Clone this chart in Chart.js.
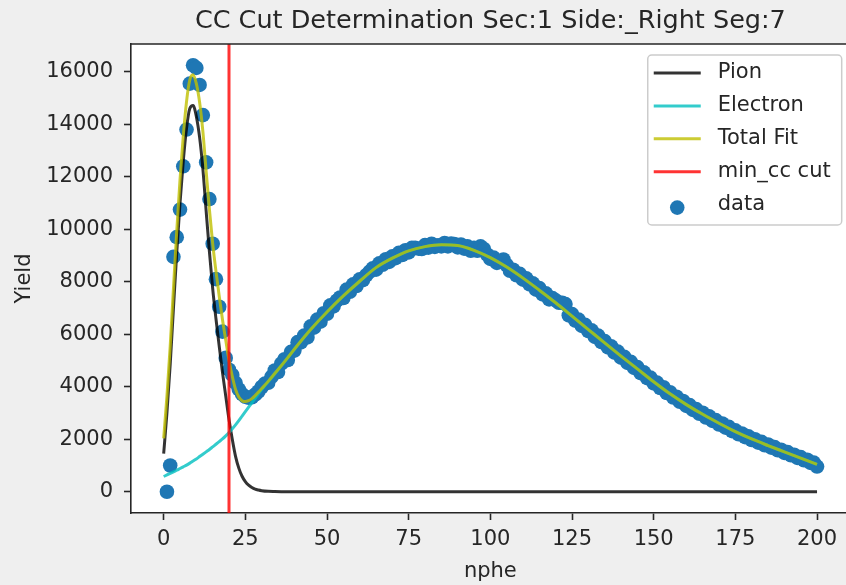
<!DOCTYPE html>
<html>
<head>
<meta charset="utf-8">
<title>CC Cut Determination</title>
<script src="https://cdn.jsdelivr.net/npm/chart.js@4/dist/chart.umd.min.js"></script>
<style>
  html, body { margin: 0; padding: 0; background: #efefef; overflow: hidden; }
  #wrap { width: 857px; height: 585px; }
  canvas { display: block; }
</style>
</head>
<body>
<div id="wrap"><canvas id="ccCut" width="857" height="585"></canvas></div>
<script>
Chart.defaults.font.family = '"DejaVu Sans", sans-serif';

// nphe bins and measured yield per bin
const nphe = Array.from({ length: 200 }, (_, i) => i + 1);
const yieldData = [
  0, 1000, 8950, 9700, 10750, 12400, 13800, 15550, 16250, 16150,
  15500, 14350, 12550, 11150, 9450, 8100, 7050, 6100, 5100, 4650,
  4450, 4150, 3900, 3720, 3620, 3580, 3600, 3700, 3820, 3990,
  4120, 4150, 4380, 4620, 4560, 4880, 5050, 5020, 5330, 5380,
  5700, 5690, 5950, 5880, 6300, 6250, 6560, 6480, 6800, 6780,
  7100, 7060, 7280, 7400, 7380, 7700, 7620, 7900, 7840, 8090,
  8060, 8250, 8380, 8510, 8460, 8700, 8650, 8860, 8760, 8970,
  8900, 9100, 9020, 9200, 9120, 9290, 9290, 9260, 9250, 9400,
  9300, 9450, 9330, 9390, 9350, 9480, 9350, 9460, 9440, 9310,
  9420, 9260, 9350, 9180, 9290, 9180, 9350, 9250, 9040, 8870,
  8920, 8720, 8780, 8850, 8640, 8420, 8460, 8250, 8300, 8080,
  8130, 7900, 7940, 7700, 7760, 7520, 7560, 7330, 7380, 7290,
  7200, 7200, 7150, 6720, 6770, 6520, 6560, 6320, 6360, 6120,
  6150, 5900, 5950, 5700, 5740, 5500, 5540, 5300, 5340, 5110,
  5140, 4910, 4950, 4720, 4750, 4520, 4550, 4330, 4350, 4130,
  4160, 3950, 3980, 3760, 3790, 3590, 3620, 3430, 3460, 3270,
  3300, 3120, 3150, 2970, 3010, 2830, 2870, 2700, 2730, 2560,
  2600, 2440, 2470, 2310, 2340, 2190, 2220, 2080, 2110, 1970,
  2000, 1870, 1900, 1770, 1800, 1680, 1700, 1580, 1600, 1480,
  1510, 1390, 1410, 1290, 1320, 1200, 1220, 1100, 1110, 960
];

// fitted components, sampled along nphe
const curveX = [
  0, 1, 2, 3, 4, 5, 6, 7, 8, 9, 10, 11, 12, 13, 14, 15, 16, 17, 18, 19,
  20, 21, 22, 23, 24, 25, 26, 27, 28, 29, 30, 32, 34, 36, 38, 40,
  45, 50, 55, 60, 65, 70, 75, 80, 85, 90, 95, 100, 105, 110, 115, 120,
  125, 130, 135, 140, 145, 150, 155, 160, 165, 170, 175, 180, 185, 190, 195, 200
];
const pionY = [
  1450, 3000, 4850, 7000, 9100, 11000, 12600, 13850, 14600, 14720,
  14300, 13500, 12300, 10700, 9150, 7750, 6600, 5550, 4550, 3650,
  2750, 2000, 1350, 900, 590, 385, 250, 160, 100, 65, 40, 15, 8, 4, 2, 0,
  0, 0, 0, 0, 0, 0, 0, 0, 0, 0, 0, 0, 0, 0, 0, 0,
  0, 0, 0, 0, 0, 0, 0, 0, 0, 0, 0, 0, 0, 0, 0, 0
];
const electronY = [
  580, 640, 700, 760, 820, 885, 950, 1015, 1090, 1170,
  1250, 1340, 1430, 1520, 1610, 1710, 1810, 1910, 2010, 2130,
  2260, 2400, 2550, 2710, 2880, 3050, 3220, 3390, 3560, 3730, 3890,
  4190, 4495, 4798, 5108, 5430,
  6180, 6850, 7460, 8020, 8540, 8900, 9180, 9340, 9410, 9380, 9200, 8920, 8560, 8140, 7680, 7200,
  6690, 6180, 5670, 5170, 4680, 4190, 3730, 3320, 2950, 2610, 2290, 2010, 1760, 1520, 1280, 1040
];
const totalY = [
  2030, 3640, 5550, 7760, 9920, 11885, 13550, 14865, 15690, 15890,
  15550, 14840, 13730, 12220, 10760, 9460, 8410, 7460, 6560, 5780,
  5010, 4400, 3900, 3610, 3470, 3435, 3470, 3550, 3660, 3795, 3930,
  4205, 4503, 4802, 5110, 5430,
  6180, 6850, 7460, 8020, 8540, 8900, 9180, 9340, 9410, 9380, 9200, 8920, 8560, 8140, 7680, 7200,
  6690, 6180, 5670, 5170, 4680, 4190, 3730, 3320, 2950, 2610, 2290, 2010, 1760, 1520, 1280, 1040
];

const minCcCut = 20;
const xRange = [-10, 210];
const yRange = [-810, 17060];
const xTicks = [0, 25, 50, 75, 100, 125, 150, 175, 200];
const yTicks = [0, 2000, 4000, 6000, 8000, 10000, 12000, 14000, 16000];

const inkColor = '#262626';

const toPoints = function toPoints(xs, ys) {
  return xs.map((x, i) => ({ x: x, y: ys[i] }));
}

const background = {
  id: 'background',
  beforeDraw: chart => {
    const ctx = chart.ctx;
    const area = chart.chartArea;
    ctx.save();
    ctx.fillStyle = '#efefef';
    ctx.fillRect(0, 0, chart.width, chart.height);
    ctx.fillStyle = '#ffffff';
    ctx.fillRect(area.left, area.top, area.right - area.left, area.bottom - area.top);
    ctx.restore();
  }
};

// top spine plus a boxed legend inside the upper right corner
const frameAndLegend = {
  id: 'frameAndLegend',
  afterDatasetsDraw: chart => {
    const ctx = chart.ctx;
    const area = chart.chartArea;
    const sets = chart.data.datasets;
    ctx.save();
    ctx.strokeStyle = inkColor;
    ctx.lineWidth = 1.6;
    ctx.beginPath();
    ctx.moveTo(area.left - 0.8, area.top);
    ctx.lineTo(area.right, area.top);
    ctx.stroke();

    ctx.font = '21px "DejaVu Sans"';
    var textW = Math.max(...sets.map(d => ctx.measureText(d.label).width));
    var w = 6 + 47 + 17 + textW + 11;
    var h = 170;
    var left = area.right - 8 - w;
    var top = area.top + 11;
    ctx.beginPath();
    ctx.roundRect(left, top, w, h, 4);
    ctx.fillStyle = 'rgba(255, 255, 255, 0.8)';
    ctx.fill();
    ctx.strokeStyle = '#cccccc';
    ctx.lineWidth = 1.5;
    ctx.stroke();

    sets.forEach((d, i) => {
      var y = top + 18 + i * 32.9;
      if (d.type === 'scatter') {
        ctx.beginPath();
        ctx.arc(left + 6 + 23.5, y + 3, 7.3, 0, Math.PI * 2);
        ctx.fillStyle = d.backgroundColor;
        ctx.fill();
      } else {
        ctx.beginPath();
        ctx.moveTo(left + 6, y);
        ctx.lineTo(left + 53, y);
        ctx.strokeStyle = d.borderColor;
        ctx.lineWidth = 3;
        ctx.stroke();
      }
      ctx.fillStyle = inkColor;
      ctx.textAlign = 'left';
      ctx.textBaseline = 'middle';
      ctx.fillText(d.label, left + 70, y);
    });
    ctx.restore();
  }
};

const lineSet = function lineSet(label, ys, color, order) {
  return {
    type: 'line',
    label: label,
    data: toPoints(curveX, ys),
    borderColor: color,
    backgroundColor: color,
    borderWidth: 3,
    pointRadius: 0,
    cubicInterpolationMode: 'monotone',
    fill: false,
    order: order
  };
}

const axisTicks = function axisTicks(values) {
  return scale => { scale.ticks = values.map(v => ({ value: v })); };
}

var chart = new Chart(document.getElementById('ccCut'), {
  type: 'line',
  plugins: [background, frameAndLegend],
  data: {
    datasets: [
      lineSet('Pion', pionY, 'rgba(0, 0, 0, 0.8)', 4),
      lineSet('Electron', electronY, 'rgba(0, 191, 191, 0.8)', 3),
      lineSet('Total Fit', totalY, 'rgba(191, 191, 0, 0.8)', 2),
      {
        type: 'line',
        label: 'min_cc cut',
        data: [{ x: minCcCut, y: yRange[0] }, { x: minCcCut, y: yRange[1] }],
        borderColor: 'rgba(255, 0, 0, 0.8)',
        backgroundColor: 'rgba(255, 0, 0, 0.8)',
        borderWidth: 3,
        pointRadius: 0,
        order: 1
      },
      {
        type: 'scatter',
        label: 'data',
        data: toPoints(nphe, yieldData),
        backgroundColor: '#1f77b4',
        borderWidth: 0,
        pointRadius: 7.3,
        order: 5
      }
    ]
  },
  options: {
    responsive: false,
    devicePixelRatio: 1,
    animation: false,
    events: [],
    layout: { padding: { left: 0, right: 2, top: 0, bottom: 0 } },
    plugins: {
      legend: { display: false },
      tooltip: { enabled: false },
      title: {
        display: true,
        fullSize: false,
        text: 'CC Cut Determination Sec:1 Side:_Right Seg:7',
        color: inkColor,
        font: { size: 25.5, weight: 'normal' },
        padding: { top: 6, bottom: 7.4 }
      }
    },
    scales: {
      x: {
        type: 'linear',
        min: xRange[0],
        max: xRange[1],
        afterBuildTicks: axisTicks(xTicks),
        afterFit: scale => {
          scale.height = 72;
          scale.paddingLeft = 0;
          scale.paddingRight = 0;
        },
        grid: { drawOnChartArea: false, tickLength: 7, tickWidth: 1.6, tickColor: inkColor },
        border: { color: inkColor, width: 1.6 },
        ticks: { color: inkColor, font: { size: 21 }, padding: 7, maxRotation: 0, callback: v => String(v) },
        title: { display: true, text: 'nphe', color: inkColor, font: { size: 21 }, padding: { top: 0, bottom: 1 } }
      },
      y: {
        type: 'linear',
        min: yRange[0],
        max: yRange[1],
        afterBuildTicks: axisTicks(yTicks),
        afterFit: scale => {
          scale.width = 131;
          scale.paddingTop = 0;
          scale.paddingBottom = 0;
        },
        grid: { drawOnChartArea: false, tickLength: 7, tickWidth: 1.6, tickColor: inkColor },
        border: { color: inkColor, width: 1.6 },
        ticks: { color: inkColor, font: { size: 21 }, padding: 11, callback: v => String(v) },
        title: { display: true, text: 'Yield', color: inkColor, font: { size: 21 }, padding: { top: 12, bottom: 0 } }
      }
    }
  }
});
</script>
</body>
</html>
